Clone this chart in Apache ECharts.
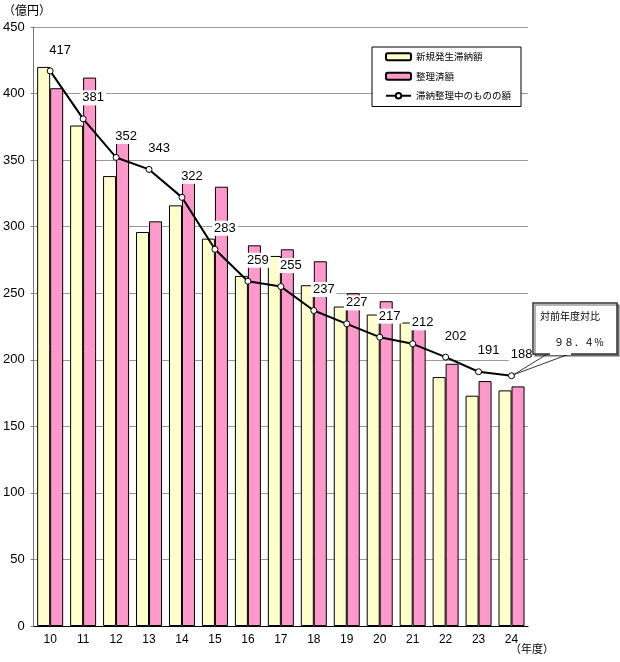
<!DOCTYPE html>
<html><head><meta charset="utf-8">
<script src="https://cdn.jsdelivr.net/npm/echarts@6/dist/echarts.min.js"></script>
<style>html,body{margin:0;padding:0;background:#fff}#c{width:620px;height:662px}</style>
</head><body><div id="c"></div>
<script>
var years = ['10','11','12','13','14','15','16','17','18','19','20','21','22','23','24'];
var newArrears = [420,376,338,296,316,291,263,278,256,240,234,228,187,173,177];
var settled = [404,412,367,304,338,330,286,283,274,250,244,233,197,184,180];
var outstanding = [417,381,352,343,322,283,259,255,237,227,217,212,202,191,188];
var yTicks = [0,50,100,150,200,250,300,350,400,450];
var calloutTitle = '対前年度対比';
var calloutValue = '９８．４％';

var font = '"Noto Sans CJK JP", sans-serif';
var chart = echarts.init(document.getElementById('c'));
chart.setOption({
  animation: false,
  backgroundColor: '#fff',
  textStyle: {fontFamily: font},
  grid: {left: 33, right: 92, top: 27, bottom: 36},
  legend: {
    orient: 'vertical', left: 372, top: 47,
    padding: [5, 10, 6, 13],
    borderColor: '#000', borderWidth: 1, backgroundColor: '#fff',
    itemWidth: 25, itemHeight: 7, itemGap: 10,
    textStyle: {fontSize: 9.5, color: '#000', fontFamily: font},
    data: [
      {name: '新規発生滞納額', icon: 'roundRect'},
      {name: '整理済額', icon: 'roundRect'},
      {name: '滞納整理中のものの額'}
    ]
  },
  xAxis: {
    type: 'category', data: years,
    axisLine: {lineStyle: {color: '#000', width: 1}},
    axisTick: {show: false},
    axisLabel: {color: '#000', fontSize: 12, margin: 8, fontFamily: 'Liberation Sans, Arial, sans-serif'}
  },
  yAxis: {
    type: 'value', min: yTicks[0], max: yTicks[yTicks.length-1], interval: 50,
    axisLine: {show: true, lineStyle: {color: '#777'}},
    axisTick: {show: true, length: 3, lineStyle: {color: '#777'}},
    splitLine: {lineStyle: {color: '#999', width: 1}},
    axisLabel: {color: '#000', fontSize: 13, margin: 9, fontFamily: 'Liberation Sans, Arial, sans-serif'}
  },
  series: [
    {name: '新規発生滞納額', type: 'bar', data: newArrears, barWidth: 13, barGap: '0%',
     itemStyle: {color: '#FFFFCC', borderColor: '#000', borderWidth: 1}},
    {name: '整理済額', type: 'bar', data: settled, barWidth: 13, barGap: '0%',
     itemStyle: {color: '#FF99CC', borderColor: '#000', borderWidth: 1}},
    {name: '滞納整理中のものの額', type: 'line', data: outstanding, z: 5,
     symbol: 'circle', symbolSize: 6,
     lineStyle: {color: '#000', width: 2},
     itemStyle: {color: '#fff', borderColor: '#000', borderWidth: 1},
     label: {show: true, position: 'top', offset: [10, -5], color: '#000', fontSize: 13,
       fontFamily: 'Liberation Sans, Arial, sans-serif',
       backgroundColor: '#fff', padding: [1, 2]}}
  ]
});

var p = chart.convertToPixel({xAxisIndex: 0, yAxisIndex: 0}, [years[years.length-1], outstanding[outstanding.length-1]]);
chart.setOption({
  graphic: [
    {type: 'text', left: 3, top: 4, style: {text: '（億円）', fontSize: 12, fill: '#000', fontFamily: font}},
    {type: 'text', left: 510, top: 643, style: {text: '（年度）', fontSize: 11, fill: '#000', fontFamily: font}},
    {type: 'polygon', z: 100, shape: {points: [[p[0]+2, p[1]-1], [549, 353], [572, 353]]},
     style: {fill: '#fff', stroke: '#333', lineWidth: 1}},
    {type: 'rect', z: 101, shape: {x: 533, y: 303, width: 84, height: 51},
     style: {fill: '#fff', stroke: '#333', lineWidth: 1.5, shadowColor: 'rgba(0,0,0,0.4)', shadowOffsetX: 2, shadowOffsetY: 2}},
    {type: 'rect', z: 102, shape: {x: 550, y: 351, width: 21, height: 4}, style: {fill: '#fff'}},
    {type: 'text', z: 103, left: 540, top: 311, style: {text: calloutTitle, fontSize: 10, fill: '#000', fontFamily: font}},
    {type: 'text', z: 103, left: 554, top: 337, style: {text: calloutValue, fontSize: 10, fill: '#000', fontFamily: font}}
  ]
});
</script></body></html>
